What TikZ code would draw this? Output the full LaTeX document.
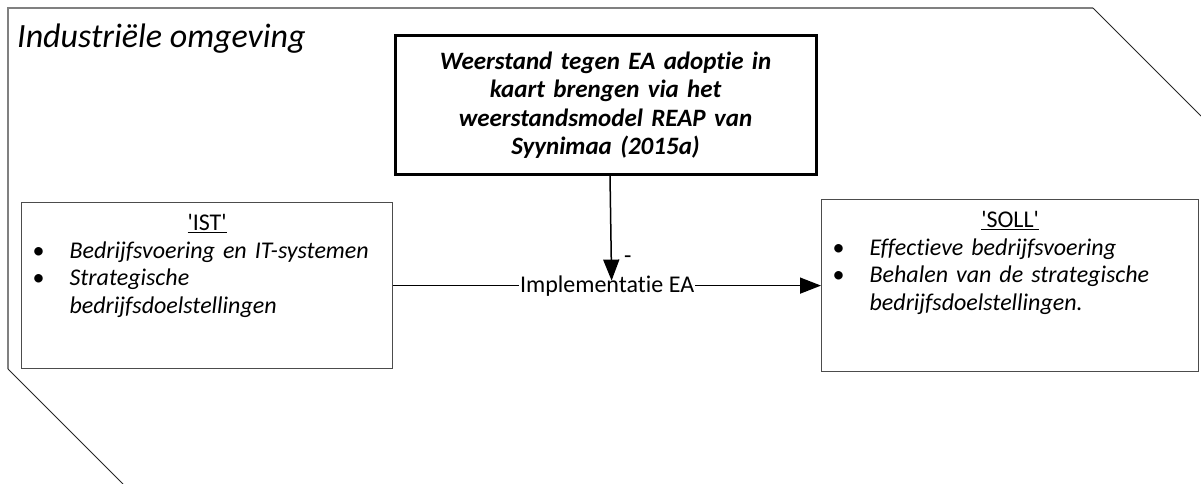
\documentclass[tikz,border=0pt]{standalone}
\usepackage{fontspec}
\setmainfont{Carlito}[Ligatures={TeXOff,CommonOff,ContextualOff}]
\usetikzlibrary{arrows.meta, positioning, calc}

\newcommand{\bulletline}[1]{\par\noindent\hangindent=37pt\hangafter=1\makebox[37pt][l]{\textbullet}\textit{#1}\par}

\begin{document}
\begin{tikzpicture}[
    x=1pt, y=-1pt,
    outerline/.style={draw=black!50, line width=1.5pt},
    diagline/.style={draw=black!85, line width=0.8pt},
    statebox/.style={rectangle, draw=black!70, line width=1.2pt, anchor=north west, inner xsep=11pt, inner ysep=4pt, text height=24pt, align=left, font=\fontsize{24}{27.5}\selectfont},
    reapbox/.style={rectangle, draw, line width=3pt, text width=410pt, align=center, minimum width=421pt, minimum height=138pt, font=\fontsize{25}{28.5}\selectfont\bfseries\itshape},
    arrow/.style={-{Triangle[length=21pt, width=16pt]}, line width=1.5pt},
]
\useasboundingbox (0,0) rectangle (1201,484);
\draw[outerline] (8,369) -- (8,8) -- (1093,8);
\draw[diagline] (8,369) -- (123,484);
\draw[diagline] (1093,8) -- (1201,116);
\node[anchor=base west, inner sep=0pt, font=\fontsize{34}{40}\selectfont\itshape] (env) at (17,48) {Industriële omgeving};
\node[reapbox] (weerstand) at (605.5,105) {Weerstand tegen EA adoptie in\\ kaart brengen via het\\ weerstandsmodel REAP van\\ Syynimaa (2015a)};
\node[statebox, text width=349pt, text depth=134pt] (ist) at (21,202) {\centerline{\underline{'IST'}}\bulletline{Bedrijfsvoering en IT-systemen}\bulletline{Strategische\hfil\break bedrijfsdoelstellingen}};
\node[statebox, text width=355pt, text depth=140pt] (soll) at (821,199) {\centerline{\underline{'SOLL'}}\bulletline{Effectieve bedrijfsvoering}\bulletline{Behalen van de strategische\hfil\break bedrijfsdoelstellingen.}};
\draw[arrow] (ist.east) -- node[midway, fill=white, inner xsep=1pt, inner ysep=2pt, font=\fontsize{24}{28}\selectfont] (impl) {Implementatie EA} (soll.west);
\draw[arrow] ([xshift=4.5pt]weerstand.south) -- node[pos=0.8, right=12pt, inner sep=0pt, font=\fontsize{24}{28}\selectfont] (minus) {-} ([xshift=4.5pt, yshift=5pt]impl.center);
\end{tikzpicture}
\end{document}
